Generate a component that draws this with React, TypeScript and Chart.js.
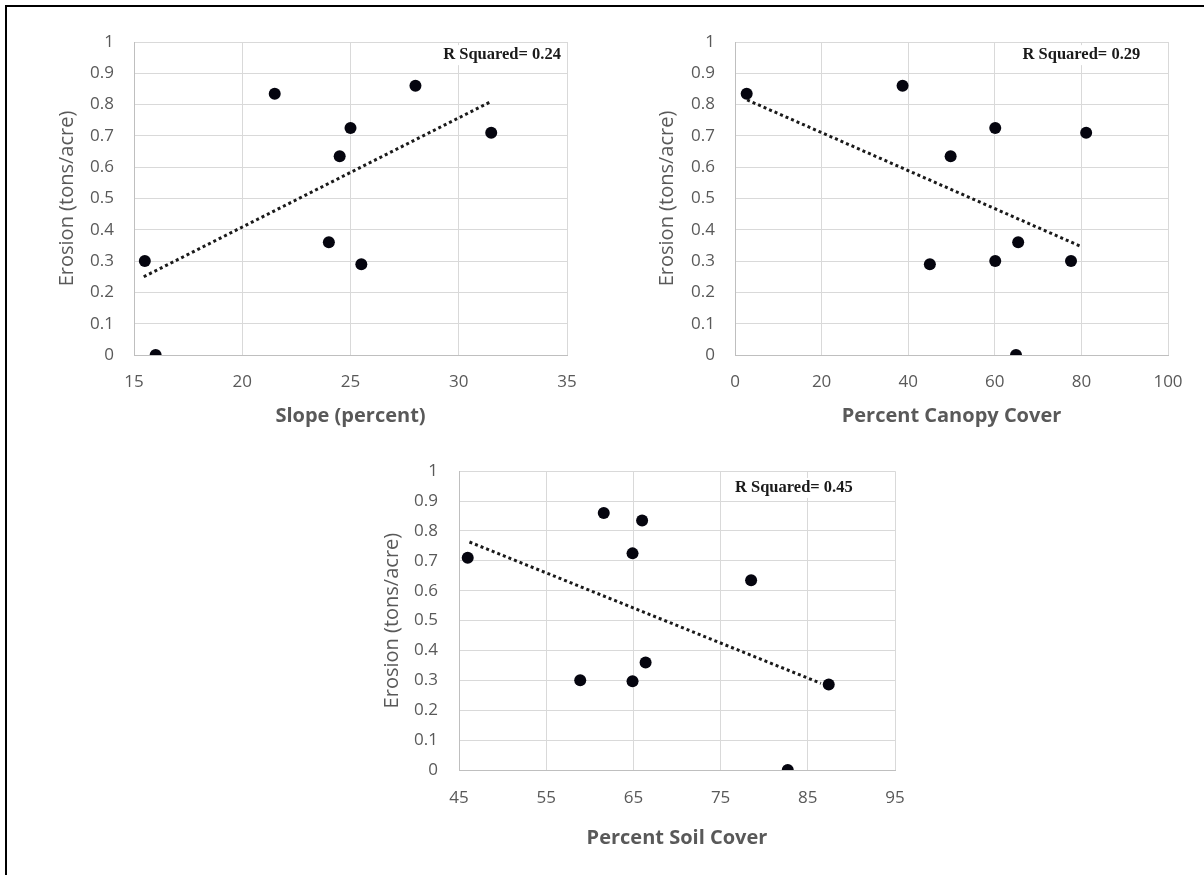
import React, { useEffect, useRef } from "react";
import { Chart, registerables } from "chart.js";

Chart.register(...registerables);

// ---------- data ----------
const slopePercent = [15.5, 16, 21.5, 24.5, 25, 24, 25.5, 28, 31.5];
const slopeErosion = [0.3, 0, 0.835, 0.635, 0.725, 0.36, 0.29, 0.86, 0.71];
const slopeTrendX = [15.45, 31.5];
const slopeTrendY = [0.25, 0.81];

const canopyPercent = [2.7, 38.7, 49.8, 60.1, 81.1, 45, 60.1, 65.4, 77.6, 64.9];
const canopyErosion = [0.835, 0.86, 0.635, 0.725, 0.71, 0.29, 0.3, 0.36, 0.3, 0];
const canopyTrendX = [2.8, 80.2];
const canopyTrendY = [0.815, 0.345];

const soilPercent = [46, 61.6, 66, 64.9, 78.5, 58.9, 64.9, 66.4, 87.4, 82.7];
const soilErosion = [0.71, 0.86, 0.835, 0.725, 0.635, 0.3, 0.297, 0.36, 0.286, 0];
const soilTrendX = [46.2, 86.5];
const soilTrendY = [0.763, 0.29];

const slopeTicks = [15, 20, 25, 30, 35];
const canopyTicks = [0, 20, 40, 60, 80, 100];
const soilTicks = [45, 55, 65, 75, 85, 95];
const erosionTicks = [0, 0.1, 0.2, 0.3, 0.4, 0.5, 0.6, 0.7, 0.8, 0.9, 1];

const rSquaredLabels = ["R Squared= 0.24", "R Squared= 0.29", "R Squared= 0.45"];
const xTitles = ["Slope (percent)", "Percent Canopy Cover", "Percent Soil Cover"];
const yTitle = "Erosion (tons/acre)";

// ---------- helpers ----------
const toPoints = (xs: number[], ys: number[]) => xs.map((x, i) => ({ x, y: ys[i] }));

const FONT = "'Open Sans', 'DejaVu Sans', sans-serif";
const GRAY_TEXT = "#595959";

type Panel = {
  left: number;
  top: number;
  w: number;
  h: number;
  padTop: number;
  padRight: number;
  yWidth: number;
  xHeight: number;
  xTickPad: number;
  yTickPad: number;
  yTitlePad: number;
  xTitlePad: number;
  xs: number[];
  ys: number[];
  tx: number[];
  ty: number[];
  ticks: number[];
  xTitle: string;
  label: string;
  labelAt: { x: number; y: number };
};

const panels: Panel[] = [
  {
    left: 0, top: 0, w: 600, h: 440,
    padTop: 42, padRight: 33, yWidth: 134, xHeight: 85,
    xTickPad: 17, yTickPad: 20, yTitlePad: 55, xTitlePad: 12,
    xs: slopePercent, ys: slopeErosion, tx: slopeTrendX, ty: slopeTrendY,
    ticks: slopeTicks, xTitle: xTitles[0], label: rSquaredLabels[0],
    labelAt: { x: 32.0, y: 0.958 },
  },
  {
    left: 600, top: 0, w: 604, h: 440,
    padTop: 42, padRight: 36, yWidth: 135, xHeight: 85,
    xTickPad: 17, yTickPad: 20, yTitlePad: 55, xTitlePad: 12,
    xs: canopyPercent, ys: canopyErosion, tx: canopyTrendX, ty: canopyTrendY,
    ticks: canopyTicks, xTitle: xTitles[1], label: rSquaredLabels[1],
    labelAt: { x: 80.0, y: 0.958 },
  },
  {
    left: 330, top: 440, w: 600, h: 435,
    padTop: 25, padRight: 35, yWidth: 129, xHeight: 105,
    xTickPad: 18, yTickPad: 21, yTitlePad: 50, xTitlePad: 25,
    xs: soilPercent, ys: soilErosion, tx: soilTrendX, ty: soilTrendY,
    ticks: soilTicks, xTitle: xTitles[2], label: rSquaredLabels[2],
    labelAt: { x: 83.4, y: 0.944 },
  },
];

function ScatterPanel({ p }: { p: Panel }) {
  const ref = useRef<HTMLCanvasElement | null>(null);

  useEffect(() => {
    if (!ref.current) return;
    const labelPlugin = {
      id: "rsq",
      afterDatasetsDraw(chart: any) {
        const ctx = chart.ctx;
        const xs = chart.scales.x;
        const ys = chart.scales.y;
        const cx = xs.getPixelForValue(p.labelAt.x);
        const cy = ys.getPixelForValue(p.labelAt.y);
        ctx.save();
        ctx.font = "bold 16.5px 'Liberation Serif', 'Times New Roman', serif";
        const tw = ctx.measureText(p.label).width;
        ctx.fillStyle = "#ffffff";
        ctx.fillRect(cx - tw / 2 - 4, cy - 10, tw + 8, 20);
        ctx.fillStyle = "#1a1a1a";
        ctx.textAlign = "center";
        ctx.textBaseline = "middle";
        ctx.fillText(p.label, cx, cy);
        ctx.restore();
      },
    };

    const chart = new Chart(ref.current, {
      type: "scatter",
      data: {
        datasets: [
          {
            label: "points",
            data: toPoints(p.xs, p.ys),
            backgroundColor: "#05050f",
            borderColor: "#05050f",
            borderWidth: 0,
            pointRadius: 6,
            order: 0,
          },
          {
            label: "trend",
            data: toPoints(p.tx, p.ty),
            showLine: true,
            borderColor: "#1a1a1a",
            borderWidth: 3,
            borderDash: [3, 3],
            pointRadius: 0,
            fill: false,
            order: 1,
          } as any,
        ],
      },
      options: {
        responsive: false,
        maintainAspectRatio: false,
        animation: false,
        events: [],
        layout: {
          padding: { top: p.padTop, right: p.padRight, left: 0, bottom: 0 },
        },
        plugins: {
          legend: { display: false },
          tooltip: { enabled: false },
          title: { display: false },
        },
        scales: {
          x: {
            type: "linear",
            position: "bottom",
            min: p.ticks[0],
            max: p.ticks[p.ticks.length - 1],
            afterBuildTicks: (s: any) => {
              s.ticks = p.ticks.map((v) => ({ value: v }));
            },
            afterFit: (s: any) => {
              s.height = p.xHeight;
            },
            grid: { color: "#d9d9d9", lineWidth: 1, drawTicks: false },
            border: { color: "#bfbfbf", width: 1 },
            ticks: {
              padding: p.xTickPad,
              color: GRAY_TEXT,
              font: { family: FONT, size: 17 },
              maxRotation: 0,
              autoSkip: false,
            },
            title: {
              display: true,
              text: p.xTitle,
              color: GRAY_TEXT,
              font: { family: FONT, size: 20, weight: "bold" },
              padding: { top: 0, bottom: p.xTitlePad },
            },
          },
          y: {
            type: "linear",
            position: "left",
            min: 0,
            max: 1,
            afterBuildTicks: (s: any) => {
              s.ticks = erosionTicks.map((v) => ({ value: v }));
            },
            afterFit: (s: any) => {
              s.width = p.yWidth;
            },
            grid: { color: "#d9d9d9", lineWidth: 1, drawTicks: false },
            border: { color: "#bfbfbf", width: 1 },
            ticks: {
              padding: p.yTickPad,
              color: GRAY_TEXT,
              font: { family: FONT, size: 17 },
              autoSkip: false,
              callback: (v: any) => String(Number(Number(v).toFixed(1))),
            },
            title: {
              display: true,
              text: yTitle,
              color: GRAY_TEXT,
              font: { family: FONT, size: 20 },
              padding: { top: p.yTitlePad, bottom: 0 },
            },
          },
        },
      },
      plugins: [labelPlugin],
    } as any);

    return () => chart.destroy();
  }, [p]);

  return (
    <canvas
      ref={ref}
      width={p.w}
      height={p.h}
      style={{
        position: "absolute",
        left: p.left,
        top: p.top,
        width: p.w,
        height: p.h,
        display: "block",
      }}
    />
  );
}

export default function App() {
  return (
    <div style={{ position: "absolute", left: 0, top: 0, width: 1204, height: 875, background: "#ffffff", overflow: "hidden" }}>
      {panels.map((p, i) => (
        <ScatterPanel key={i} p={p} />
      ))}
      <div
        style={{
          position: "absolute",
          left: 5,
          top: 5,
          width: 1199,
          height: 870,
          borderTop: "2px solid #000",
          borderLeft: "2px solid #000",
          boxSizing: "border-box",
          pointerEvents: "none",
        }}
      />
    </div>
  );
}
